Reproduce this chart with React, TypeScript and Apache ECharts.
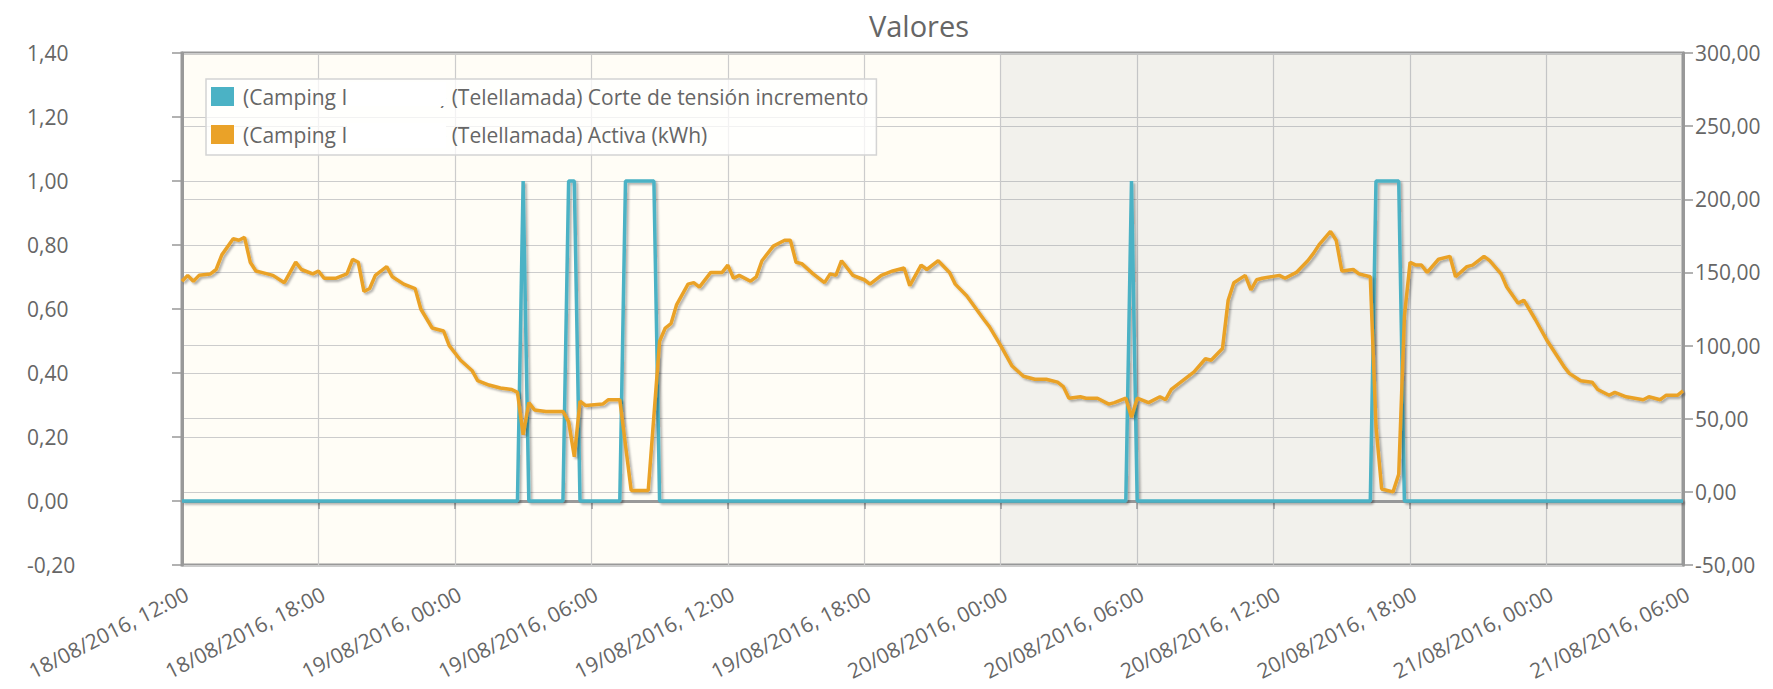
import React, { useEffect, useRef } from "react";
import * as echarts from "echarts";

const START = Date.UTC(2016, 7, 18, 12, 0);
const HOUR = 3600000;
const SPAN_HOURS = 66;
const WEEKEND_FROM_HOURS = 36;

const TITLE = "Valores";
const GAP = "\u00a0".repeat(17);
const SERIES_NAMES = [
  "(Camping I" + GAP + ") (Telellamada) Corte de tensión incremento",
  "(Camping I" + GAP + ") (Telellamada) Activa (kWh)",
];

// Corte de tensión incremento (left axis), hours from 18/08/2016 12:00
const corteHours = [0, 14.75, 15, 15.25, 16.75, 17, 17.25, 17.5, 19.25, 19.5, 20.75, 21, 41.5, 41.75, 42, 52.25, 52.5, 53.5, 53.75, 66];
const corteValues = [0, 0, 1, 0, 0, 1, 1, 0, 0, 1, 1, 0, 0, 1, 0, 0, 1, 1, 0, 0];

// Activa (kWh) (right axis), hours from 18/08/2016 12:00
const activaHours = [
  0, 0.25, 0.5, 0.75, 1.25, 1.5, 1.75, 2.25, 2.5, 2.75, 3, 3.25, 3.5, 4, 4.5, 5, 5.25, 5.75, 6, 6.25,
  6.75, 7.25, 7.5, 7.75, 8, 8.25, 8.5, 9, 9.25, 9.75, 10.25, 10.5, 11, 11.5, 11.75, 12.25, 12.75, 13, 13.5, 14,
  14.5, 14.75, 15, 15.25, 15.5, 16, 16.75, 17, 17.25, 17.5, 17.75, 18.5, 18.75, 19.25, 19.75, 20.5, 21, 21.25, 21.5, 21.75,
  22.25, 22.5, 22.75, 23.25, 23.75, 24, 24.25, 24.5, 25, 25.25, 25.5, 26, 26.5, 26.75, 27, 27.25, 27.75, 28.25, 28.5, 28.75,
  29, 29.5, 30, 30.25, 30.75, 31.25, 31.75, 32, 32.5, 32.75, 33.25, 33.75, 34, 34.5, 35.25, 35.5, 36, 36.5, 37, 37.5,
  38, 38.5, 38.75, 39, 39.5, 39.75, 40.25, 40.75, 41, 41.5, 41.75, 42, 42.5, 43, 43.25, 43.5, 44, 44.5, 45, 45.25,
  45.75, 46, 46.25, 46.75, 47, 47.25, 47.5, 48.25, 48.5, 49, 49.5, 49.75, 50, 50.5, 50.75, 51, 51.5, 51.75, 52.25, 52.5,
  52.75, 53.25, 53.5, 53.75, 54, 54.25, 54.5, 54.75, 55.25, 55.75, 56, 56.5, 56.75, 57.25, 57.5, 58, 58.25, 58.75, 59, 59.5,
  59.75, 60, 60.5, 60.75, 61, 61.5, 62, 62.25, 62.75, 63, 63.5, 64.25, 64.5, 65, 65.25, 65.75, 66,
];
const activaValues = [
  144, 148, 144, 148, 149, 152, 162, 173, 172, 174, 157, 151, 150, 148, 143, 157, 152, 149, 151, 146,
  146, 149, 159, 157, 137, 139, 148, 154, 147, 142, 139, 125, 112, 110, 100, 90, 83, 76, 73, 71,
  70, 68, 39, 61, 56, 55, 55, 48, 24, 62, 59, 60, 63, 63, 1, 1, 103, 112, 115, 128,
  142, 143, 140, 150, 150, 155, 146, 148, 144, 147, 158, 168, 172, 172, 157, 156, 149, 143, 149, 148,
  158, 148, 145, 142, 148, 151, 153, 141, 155, 152, 158, 150, 142, 134, 118, 113, 100, 86, 79, 77,
  77, 75, 72, 64, 65, 64, 64, 60, 61, 64, 51, 64, 61, 65, 63, 70, 76, 82, 91, 90,
  98, 131, 143, 148, 138, 145, 146, 148, 146, 150, 158, 163, 169, 178, 172, 151, 152, 149, 147, 45,
  2, 0, 12, 120, 157, 155, 155, 150, 159, 161, 147, 154, 155, 161, 158, 149, 140, 129, 131, 118,
  111, 104, 92, 86, 81, 76, 75, 70, 66, 68, 65, 63, 65, 63, 66, 66, 69,
];

const leftTicks = { min: -0.2, max: 1.4, interval: 0.2 };
const rightTicks = { min: -50, max: 300, interval: 50 };

const FONT = "'Open Sans', 'Noto Sans', sans-serif";
const LABEL_COLOR = "#666666";

const pad = (n: number) => (n < 10 ? "0" + n : "" + n);
const fmtDate = (v: number) => {
  const d = new Date(v);
  return `${pad(d.getUTCDate())}/${pad(d.getUTCMonth() + 1)}/${d.getUTCFullYear()}, ${pad(d.getUTCHours())}:${pad(d.getUTCMinutes())}`;
};
const fmtNum = (v: number) => v.toFixed(2).replace(".", ",");

export default function App() {
  const ref = useRef<HTMLDivElement>(null);
  useEffect(() => {
    if (!ref.current) return;
    const chart = echarts.init(ref.current, null, { renderer: "svg" });
    const corteData = corteHours.map((h, i) => [START + h * HOUR, corteValues[i]]);
    const activaData = activaHours.map((h, i) => [START + h * HOUR, activaValues[i]]);
    const shadow = {
      shadowColor: "rgba(0,0,0,0.3)",
      shadowBlur: 2,
      shadowOffsetX: 2,
      shadowOffsetY: 2,
    };
    chart.setOption({
      animation: false,
      title: {
        text: TITLE,
        left: 914,
        top: 6,
        textAlign: "center",
        textStyle: { fontFamily: FONT, fontSize: 29, fontWeight: "normal", color: "#666666" },
      },
      legend: {
        orient: "vertical",
        left: 206,
        top: 79,
        itemWidth: 23,
        itemHeight: 19,
        itemGap: 17,
        icon: "rect",
        padding: [7, 8, 10, 5],
        backgroundColor: "rgba(255,255,255,0.75)",
        borderColor: "#d4d4d4",
        borderWidth: 1.5,
        textStyle: { fontFamily: FONT, fontSize: 21, color: "#666666", padding: [0, 0, 0, 4] },
        data: SERIES_NAMES,
      },
      grid: {
        left: 182,
        right: 90,
        top: 53,
        bottom: 124,
        show: true,
        backgroundColor: "#fffdf6",
        borderColor: "#999999",
        borderWidth: 3,
      },
      xAxis: {
        type: "value",
        min: START,
        max: START + SPAN_HOURS * HOUR,
        interval: 6 * HOUR,
        axisLine: { show: true, lineStyle: { color: "#999999", width: 3 } },
        axisTick: { show: true, length: 8, lineStyle: { color: "#999999", width: 1.5 } },
        axisLabel: {
          formatter: fmtDate,
          rotate: 27,
          margin: 18,
          align: "right",
          verticalAlign: "top",
          fontFamily: FONT,
          fontSize: 21,
          color: LABEL_COLOR,
          showMinLabel: true,
          showMaxLabel: true,
        },
        splitLine: { show: true, lineStyle: { color: "#cccccc", width: 1.2 } },
      },
      yAxis: [
        {
          type: "value",
          position: "left",
          ...leftTicks,
          axisLine: { show: true, lineStyle: { color: "#999999", width: 3 } },
          axisTick: { show: true, length: 10, lineStyle: { color: "#999999", width: 1.5 } },
          axisLabel: {
            formatter: fmtNum,
            align: "left",
            margin: 155,
            fontFamily: FONT,
            fontSize: 21,
            color: LABEL_COLOR,
          },
          splitLine: { show: true, lineStyle: { color: "#cccccc", width: 1.2 } },
        },
        {
          type: "value",
          position: "right",
          ...rightTicks,
          axisLine: { show: true, lineStyle: { color: "#999999", width: 3 } },
          axisTick: { show: true, length: 10, lineStyle: { color: "#999999", width: 1.5 } },
          axisLabel: {
            formatter: fmtNum,
            margin: 12,
            fontFamily: FONT,
            fontSize: 21,
            color: LABEL_COLOR,
          },
          splitLine: { show: true, lineStyle: { color: "#cccccc", width: 1.2 } },
        },
      ],
      graphic: [
        { type: "rect", shape: { x: 347, y: 82, width: 99, height: 24 }, style: { fill: "#ffffff" }, z: 100 },
        { type: "rect", shape: { x: 347, y: 123, width: 99, height: 25 }, style: { fill: "#ffffff" }, z: 100 },
      ],
      series: [
        {
          name: SERIES_NAMES[0],
          type: "line",
          yAxisIndex: 0,
          data: corteData,
          symbol: "none",
          color: "#4bb2c5",
          lineStyle: { width: 3.5, color: "#4bb2c5", ...shadow },
          markArea: {
            silent: true,
            itemStyle: { color: "rgba(125,133,146,0.1)" },
            data: [[{ xAxis: START + WEEKEND_FROM_HOURS * HOUR }, { xAxis: START + SPAN_HOURS * HOUR }]],
          },
        },
        {
          name: SERIES_NAMES[1],
          type: "line",
          yAxisIndex: 1,
          data: activaData,
          symbol: "none",
          color: "#eaa228",
          lineStyle: { width: 3.5, color: "#eaa228", ...shadow },
        },
      ],
    });
    return () => chart.dispose();
  }, []);
  return (
    <div
      ref={ref}
      style={{ position: "fixed", left: 0, top: 0, width: 1773, height: 689, background: "#ffffff" }}
    />
  );
}
